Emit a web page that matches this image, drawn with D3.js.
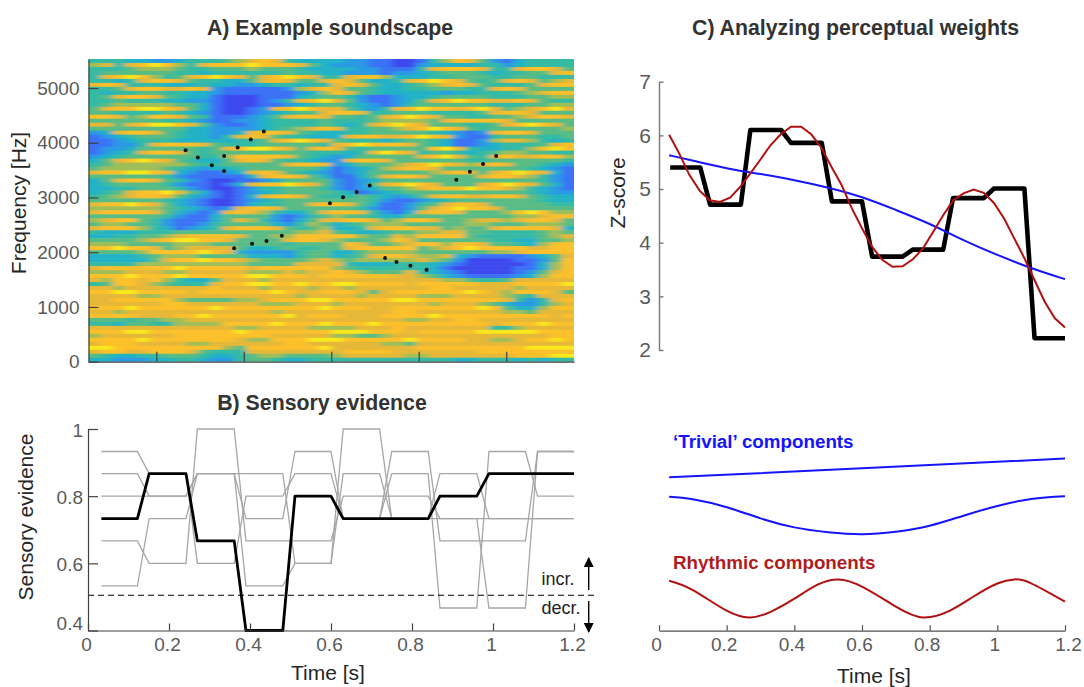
<!DOCTYPE html>
<html>
<head>
<meta charset="utf-8">
<title>Soundscape</title>
<script src="https://cdn.jsdelivr.net/npm/d3@7"></script>
<style>
  html, body { margin: 0; padding: 0; background: #fff; }
  svg { display: block; font-family: "Liberation Sans", Arial, sans-serif; }
  .tickText text { font-size: 19px; fill: #5a5a5a; }
  .label { font-size: 21px; fill: #262626; }
  .title { font-size: 21.3px; font-weight: bold; fill: #333; text-anchor: middle; }
</style>
</head>
<body>
<svg id="chart" width="1084" height="687"></svg>
<script>
// spectrogram levels, top row first, 0 = deep blue ... 9 = yellow
const specRows = [
"4443322344 4567874333 3221100146 8752134444",
"6747898647 8889888753 2221100233 3344234444",
"4445666544 5556555433 3322111478 8874478875",
"4555555443 4444445443 3222122345 5543445578",
"4789864578 9875789874 4788633344 5554455444",
"4434788754 4335787557 8753347898 7545787567",
"7874443334 3322344344 7875334567 8754445788",
"4457887787 2111112678 7554334455 5447875555",
"4344554433 2111111236 8754333332 3344456788",
"4578875433 1000111345 5421123345 5554445566",
"4454443322 1000124789 7521123578 9887787544",
"4566666553 1000112345 5432124555 5554445566",
"5788998753 1001278987 7532478988 7897567897",
"5544445432 1001234557 8874455544 4457887555",
"8875688754 1112357887 5545789875 5445567887",
"5555554432 1122344445 4445666657 8888755555",
"7757899875 2112344445 4347898755 5445789875",
"5555555533 2222345678 7445567898 7545555556",
"2378875433 2237887543 3445555543 2127887555",
"1234555433 2478754433 3788778987 2114555445",
"1123444333 3344578987 5444345543 1126776434",
"1122478887 5444555554 7898887543 1123444578",
"1223555554 5789987578 7545555589 7433446898",
"1234788754 5555555544 4347987455 4345665544",
"2345555554 4688887543 2355555789 7547877886",
"3578987543 3578754432 2788755555 5445555554",
"4566666654 4555557887 2355567898 7678755432",
"5666665432 3345555553 1234678875 5555554321",
"7889987321 1237875432 1235555567 8757898731",
"5555554211 1113788753 1135788755 5578876421",
"3578875421 0011235555 2123555555 5555555421",
"3455554211 0137889875 2125789875 5578987531",
"3344555421 0012445554 2123556788 8988764321",
"3457889753 1012345555 4312345555 5555554322",
"4567887532 1013788754 4454323578 8778875433",
"5555554321 0012345555 5554211234 5555555433",
"7889875321 0013445578 8753112457 8875555544",
"6666665432 1278875555 5542112578 9887555555",
"7888875321 2787643357 8874213788 7555689866",
"5555554211 3555521245 6554335555 5555566788",
"6788542111 3576421357 7887568875 5677678875",
"5665542112 4555532465 3456665555 5665556665",
"7888643123 4788875456 3347888775 6557888873",
"4333444555 5555555667 5433455667 7554444565",
"3344556788 8875566888 8865576888 8544444567",
"5555678998 8755557887 6555687555 5554433556",
"6665555666 5555554555 5875567886 8875543688",
"8898875677 7753345445 5788888567 8988887788",
"5555688889 8732222455 3356666555 5556678888",
"3333456665 5553332455 3457887667 3211112357",
"3333357889 8876555567 6566666765 2000011258",
"4444666666 6665555777 7433344432 1000001368",
"7888888988 8887888888 6544444431 0000011368",
"6667776677 7776667677 8765557432 1000012578",
"8889888988 8889988878 8888877653 2111123688",
"7688786433 5777677777 7777777776 6544577777",
"4588765444 7889988988 9988887888 8877788889",
"7767777777 8777677767 7677777788 7777767777",
"8899888878 8888898778 8875788888 8987688875",
"7777667777 7777777677 7767777666 7777654777",
"7788888655 5566788899 8888899888 8888742478",
"7777778877 7777666777 6777777767 7765322467",
"8889888888 9888888889 8887788888 8898533688",
"7767777777 7777767777 7777788777 7777665777",
"8888777889 8888889788 8777888898 8888888878",
"5554556677 7777777777 7777776677 8877777777",
"4435544666 6888898889 8889888888 8887888988",
"7777777777 7766777766 6677787777 7774467777",
"8889988888 8898888888 9998887888 8899999888",
"6777777888 8888877777 6655677777 7777777788",
"8888988888 8876688899 9888889888 8776678898",
"7888777766 7777778877 7777665777 7777777777",
"9988888888 8658888889 7777777888 8888889999",
"7887788875 4447777777 7888877777 7788888888",
"5433445554 3345665555 6777776677 7777788899",
"3322233443 2245543344 4444444444 3344434344"
];
const specColors = ["#3c48ee","#3a72f6","#2a9ae4","#22b2c8","#36baa4","#58bc84","#a0be58","#e6b838","#fcc02c","#f8e81c"];

// black dots on the spectrogram
const dotTime = [0.267,0.295,0.327,0.355,0.355,0.386,0.416,0.446,0.378,0.419,0.452,0.487,0.597,0.627,0.658,0.688,0.886,0.917,0.947,0.977,0.723,0.749,0.781,0.818];
const dotFreq = [3865,3730,3590,3486,3760,3912,4059,4205,2073,2157,2207,2303,2896,3005,3102,3218,3322,3468,3614,3760,1896,1823,1755,1682];

// each tone segment holds between these two times
const segStart = [0.033,0.151,0.27,0.39,0.511,0.63,0.75,0.869,0.99,1.11];
const segEnd = [0.122,0.242,0.361,0.481,0.6,0.72,0.84,0.96,1.08,1.2];

// panel B
const evidenceMean = [0.733,0.867,0.667,0.4,0.8,0.733,0.733,0.8,0.867,0.867];
const evidenceA = [0.933,0.867,0.6,0.8,0.867,0.733,0.933,0.667,0.667,0.933];
const evidenceB = [0.867,0.8,0.867,0.867,0.6,1,0.733,0.867,0.733,0.733];
const evidenceC = [0.8,0.8,0.867,0.733,0.933,0.733,0.867,0.467,0.933,0.8];
const evidenceD = [0.667,0.6,1,0.667,0.667,0.8,0.8,0.733,0.467,0.933];
const evidenceE = [0.533,0.733,0.867,0.533,0.6,0.867,0.733,0.733,0.733,0.733];
const threshold = 0.505;

// panel C, z-scores
const zBlack = [5.4,4.71,6.1,5.86,4.77,3.74,3.87,4.83,5.01,2.22];
const zBlueTime = [0.03,0.1,0.2,0.3,0.4,0.5,0.6,0.7,0.8,0.9,1,1.1,1.2];
const zBlue = [5.63,5.53,5.38,5.28,5.17,5.03,4.86,4.61,4.36,4.04,3.77,3.52,3.32];
const zRed = [6.01,5.66,5.26,4.97,4.79,4.76,4.84,5.04,5.29,5.55,5.82,6.02,6.16,6.16,6.02,5.77,5.41,5.07,4.64,4.27,3.92,3.68,3.55,3.56,3.69,3.89,4.2,4.51,4.79,4.92,4.99,4.93,4.74,4.45,4.08,3.71,3.3,2.9,2.59,2.42];

// panel C, components (arbitrary units)
const trendTime = [0.03,0.6,1.2];
const trendValue = [0.852,0.902,0.956];
const slowTime = [0.03,0.1,0.2,0.3,0.4,0.5,0.6,0.7,0.8,0.9,1,1.1,1.2];
const slowValue = [0.744,0.73,0.686,0.624,0.574,0.547,0.536,0.55,0.583,0.639,0.693,0.732,0.747];
const rhythmTime = [0.03,0.1,0.2,0.27,0.33,0.4,0.47,0.53,0.6,0.7,0.78,0.86,0.93,1,1.05,1.1,1.2];
const rhythmValue = [0.278,0.226,0.111,0.074,0.105,0.178,0.257,0.285,0.245,0.134,0.074,0.112,0.19,0.262,0.285,0.263,0.161];

const timeTicks = [0,0.2,0.4,0.6,0.8,1,1.2];

const svg = d3.select("#chart");

function styleAxis(g, color, width) {
  g.selectAll("path,line").attr("stroke", color).attr("stroke-width", width);
  g.classed("tickText", true);
}

function stepPoints(values) {
  const pts = [];
  values.forEach((v, i) => {
    pts.push([segStart[i], v]);
    pts.push([segEnd[i], v]);
  });
  return pts;
}

// ---- A) spectrogram
const xA = d3.scaleLinear().domain([0.045, 1.155]).range([88.5, 574]);
const yA = d3.scaleLinear().domain([0, 5530]).range([361.7, 59]);

const rows = specRows.map(r => r.replace(/ /g, "").split("").map(Number));
const colBand = d3.scaleBand().domain(d3.range(rows[0].length)).range(xA.range());
const rowBand = d3.scaleBand().domain(d3.range(rows.length)).range([yA(5530), yA(0)]);
const specColor = d3.scaleOrdinal().domain(d3.range(10)).range(specColors);

const defs = svg.append("defs");
defs.append("clipPath").attr("id", "specClip").append("rect")
  .attr("x", xA.range()[0]).attr("y", yA(5530))
  .attr("width", xA.range()[1] - xA.range()[0]).attr("height", yA(0) - yA(5530));
const blur = defs.append("filter").attr("id", "specBlur")
  .attr("x", "-5%").attr("y", "-5%").attr("width", "110%").attr("height", "110%");
blur.append("feGaussianBlur").attr("stdDeviation", "3.5 0.7");

const bleed = 25; // edge cells run past the clip so the blur doesn't fade at the border
const lastCol = rows[0].length - 1, lastRow = rows.length - 1;
const specG = svg.append("g").attr("clip-path", "url(#specClip)")
  .append("g").attr("filter", "url(#specBlur)");
rows.forEach((row, r) => {
  specG.selectAll(".c" + r).data(row).enter().append("rect")
    .attr("class", "c" + r)
    .attr("x", (d, c) => colBand(c) - (c == 0 ? bleed : 0))
    .attr("y", rowBand(r) - (r == 0 ? bleed : 0))
    .attr("width", (d, c) => colBand.bandwidth() + 0.5 + (c == 0 || c == lastCol ? bleed : 0))
    .attr("height", rowBand.bandwidth() + 0.5 + (r == 0 || r == lastRow ? bleed : 0))
    .attr("fill", d => specColor(d));
});

svg.append("g").selectAll("circle").data(dotTime).enter().append("circle")
  .attr("cx", d => xA(d))
  .attr("cy", (d, i) => yA(dotFreq[i]))
  .attr("r", 2)
  .attr("fill", "#111");

const axA = svg.append("g").attr("transform", "translate(88.5,0)")
  .call(d3.axisLeft(yA).tickValues([0,1000,2000,3000,4000,5000]).tickFormat(d3.format("d")).tickSizeInner(-10).tickSizeOuter(0).tickPadding(9));
styleAxis(axA, "#404040", 1.2);
const axAb = svg.append("g").attr("transform", "translate(0,361.7)")
  .call(d3.axisBottom(xA).tickValues([0.2,0.4,0.6,0.8,1]).tickFormat("").tickSizeInner(-10).tickSizeOuter(0));
styleAxis(axAb, "#404040", 1.2);

svg.append("text").attr("class", "title").attr("x", 330).attr("y", 35).text("A) Example soundscape");
svg.append("text").attr("class", "label").attr("transform", "translate(26,203) rotate(-90)")
  .attr("text-anchor", "middle").text("Frequency [Hz]");

// ---- B) sensory evidence
const xB = d3.scaleLinear().domain([0, 1.2]).range([88, 574]);
const yB = d3.scaleLinear().domain([0.4, 1]).range([630.5, 429]);
const lineB = d3.line().x(d => xB(d[0])).y(d => yB(d[1]));

[evidenceA, evidenceB, evidenceC, evidenceD, evidenceE].forEach(vals => {
  svg.append("path").attr("d", lineB(stepPoints(vals)))
    .attr("fill", "none").attr("stroke", "#a6a6a6").attr("stroke-width", 1.3);
});
svg.append("path").attr("d", lineB(stepPoints(evidenceMean)))
  .attr("fill", "none").attr("stroke", "#000").attr("stroke-width", 2.8)
  .attr("stroke-linejoin", "round");

svg.append("line").attr("x1", xB(0)).attr("x2", 595).attr("y1", yB(threshold)).attr("y2", yB(threshold))
  .attr("stroke", "#000").attr("stroke-width", 1.2).attr("stroke-dasharray", "6,4");

const axB = svg.append("g").attr("transform", "translate(88,0)")
  .call(d3.axisLeft(yB).tickValues([0.4,0.6,0.8,1]).tickFormat(d3.format("~g")).tickSizeInner(-10).tickSizeOuter(0).tickPadding(5));
styleAxis(axB, "#404040", 1.2);
axB.selectAll("text").attr("dy", d => d == 0.4 ? "-0.05em" : "0.38em");
const axBb = svg.append("g").attr("transform", "translate(0,630.5)")
  .call(d3.axisBottom(xB).tickValues(timeTicks).tickFormat(d3.format("~g")).tickSizeInner(-7).tickSizeOuter(0).tickPadding(7));
styleAxis(axBb, "#404040", 1.2);
axBb.selectAll("text").attr("dx", -2);

svg.append("text").attr("class", "title").attr("x", 322).attr("y", 410).text("B) Sensory evidence");
svg.append("text").attr("class", "label").attr("transform", "translate(33,517) rotate(-90)")
  .attr("text-anchor", "middle").text("Sensory evidence");
svg.append("text").attr("class", "label").attr("x", 328).attr("y", 680)
  .attr("text-anchor", "middle").text("Time [s]");

svg.append("text").attr("x", 541.5).attr("y", 585).attr("font-size", 18).attr("fill", "#222").text("incr.");
svg.append("text").attr("x", 541.5).attr("y", 614).attr("font-size", 18).attr("fill", "#222").text("decr.");
defs.append("marker").attr("id", "head").attr("viewBox", "0 0 10 10").attr("refX", 9).attr("refY", 5)
  .attr("markerUnits", "userSpaceOnUse").attr("markerWidth", 12).attr("markerHeight", 10)
  .attr("orient", "auto").append("path").attr("d", "M0,0L10,5L0,10Z").attr("fill", "#000");
svg.append("line").attr("x1", 588.7).attr("x2", 588.7).attr("y1", 590).attr("y2", 558)
  .attr("stroke", "#000").attr("stroke-width", 1.4).attr("marker-end", "url(#head)");
svg.append("line").attr("x1", 588.7).attr("x2", 588.7).attr("y1", 601).attr("y2", 632)
  .attr("stroke", "#000").attr("stroke-width", 1.4).attr("marker-end", "url(#head)");

// ---- C) perceptual weights
const xC = d3.scaleLinear().domain([0, 1.2]).range([659, 1065]);
const yC = d3.scaleLinear().domain([2, 7]).range([350, 81.7]);
const lineC = d3.line().x(d => xC(d[0])).y(d => yC(d[1]));

svg.append("path").attr("d", lineC(stepPoints(zBlack)))
  .attr("fill", "none").attr("stroke", "#000").attr("stroke-width", 4.6).attr("stroke-linejoin", "round");
svg.append("path").attr("d", lineC.curve(d3.curveBasis)(zBlue.map((v, i) => [zBlueTime[i], v])))
  .attr("fill", "none").attr("stroke", "#1414ff").attr("stroke-width", 2);
svg.append("path").attr("d", lineC.curve(d3.curveLinear)(zRed.map((v, i) => [0.03 * (i + 1), v])))
  .attr("fill", "none").attr("stroke", "#b01010").attr("stroke-width", 2);

const axC = svg.append("g").attr("transform", "translate(659,0)")
  .call(d3.axisLeft(yC).tickValues([2,3,4,5,6,7]).tickFormat(d3.format("d")).tickSizeInner(-4.5).tickSizeOuter(0).tickPadding(8));
styleAxis(axC, "#777", 1.4);
axC.selectAll("text").style("font-size", "21px");

svg.append("text").attr("class", "title").attr("x", 855.5).attr("y", 35).text("C) Analyzing perceptual weights");
svg.append("text").attr("class", "label").attr("transform", "translate(625,193) rotate(-90)")
  .attr("text-anchor", "middle").text("Z-score");

// components
const yComp = d3.scaleLinear().domain([0, 1]).range([630.7, 450.7]);
const lineComp = d3.line().x(d => xC(d[0])).y(d => yComp(d[1])).curve(d3.curveNatural);

svg.append("path").attr("d", lineComp(trendValue.map((v, i) => [trendTime[i], v])))
  .attr("fill", "none").attr("stroke", "#1414ff").attr("stroke-width", 2);
svg.append("path").attr("d", lineComp(slowValue.map((v, i) => [slowTime[i], v])))
  .attr("fill", "none").attr("stroke", "#1414ff").attr("stroke-width", 2);
svg.append("path").attr("d", lineComp(rhythmValue.map((v, i) => [rhythmTime[i], v])))
  .attr("fill", "none").attr("stroke", "#b01010").attr("stroke-width", 2);

const axCb = svg.append("g").attr("transform", "translate(0,630.7)")
  .call(d3.axisBottom(xC).tickValues(timeTicks).tickFormat(d3.format("~g")).tickSizeInner(-5.5).tickSizeOuter(0).tickPadding(7));
styleAxis(axCb, "#505050", 1.2);
axCb.selectAll("text").attr("dx", (d, i) => i == 6 ? 3 : -3);

svg.append("text").attr("x", 673).attr("y", 448).attr("font-size", 18.8).attr("font-weight", "bold")
  .attr("fill", "#1414ff").text("\u2018Trivial\u2019 components");
svg.append("text").attr("x", 673).attr("y", 569).attr("font-size", 18.8).attr("font-weight", "bold")
  .attr("fill", "#b01c1c").text("Rhythmic components");
svg.append("text").attr("class", "label").attr("x", 874).attr("y", 683)
  .attr("text-anchor", "middle").text("Time [s]");
</script>
</body>
</html>
